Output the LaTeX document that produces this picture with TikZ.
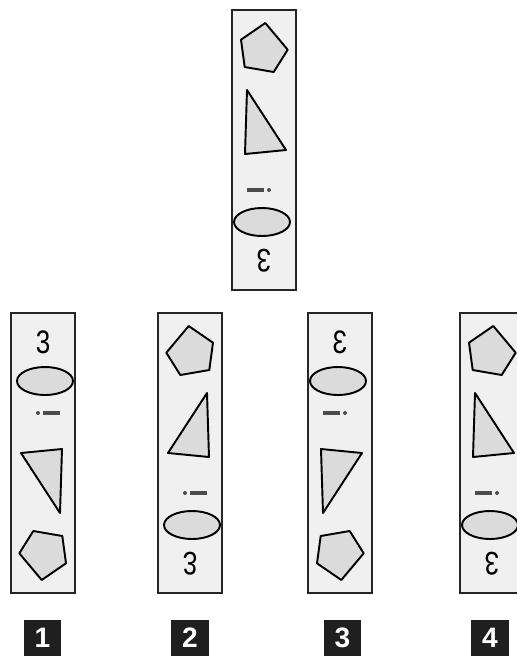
\documentclass[tikz,border=0pt]{standalone}
\usepackage{fontspec}
\setmainfont{Liberation Sans}
\usepackage{tikz}
\usetikzlibrary{positioning}
\tikzset{
  stripbox/.style={draw=black!85,line width=0.95pt,fill=gray!12},
  shp/.style={draw=black,line width=1.1pt,fill=gray!28,line join=round},
  dashmark/.style={draw=black!70,line width=1.8pt},
  digit/.style={transform shape,xscale=0.8,inner sep=0pt,font=\fontsize{18.5}{18.5}\selectfont},
  numbox/.style={rectangle,fill=black!88,text=white,minimum width=0.76cm,minimum height=0.72cm,inner sep=0pt,font=\fontsize{16}{16}\selectfont\bfseries},
  strip/.pic={
    \draw[stripbox] (-32,-140) rectangle (32,140);
    \node[digit] (-num) at (0,-111) {3};
    \draw[shp] (2,-72) ellipse [x radius=0.56cm,y radius=0.28cm];
    \fill[black!70] (-5,-40) circle [radius=0.04cm];
    \draw[dashmark] (0,-40) -- (17,-40);
    \draw[shp] (-22,0) -- (19,-4) -- (17,60) -- cycle;
    \draw[shp] (-23.7,100.3) -- (-9.7,78) -- (19.3,83) -- (23,110.3) -- (-1.3,127) -- cycle;
  }
}
\begin{document}
\begin{tikzpicture}[x=0.02cm,y=-0.02cm]
\useasboundingbox[fill=white] (0,0) rectangle (517,657);
\clip (0,0) rectangle (517,657);
% given strip
\pic[rotate=180] (top) at (264,150) {strip};
% answer strips
\pic (s1) at (43,453) {strip};
\pic[yscale=-1] (s2) at (190,453) {strip};
\pic[xscale=-1] (s3) at (340,453) {strip};
\pic[rotate=180] (s4) at (492,453) {strip};
% labels
\node[numbox] (n1) at (42.5,638) {1};
\node[numbox] (n2) at (190,638) {2};
\node[numbox] (n3) at (342.5,638) {3};
\node[numbox] (n4) at (490,638) {4};
\end{tikzpicture}
\end{document}
